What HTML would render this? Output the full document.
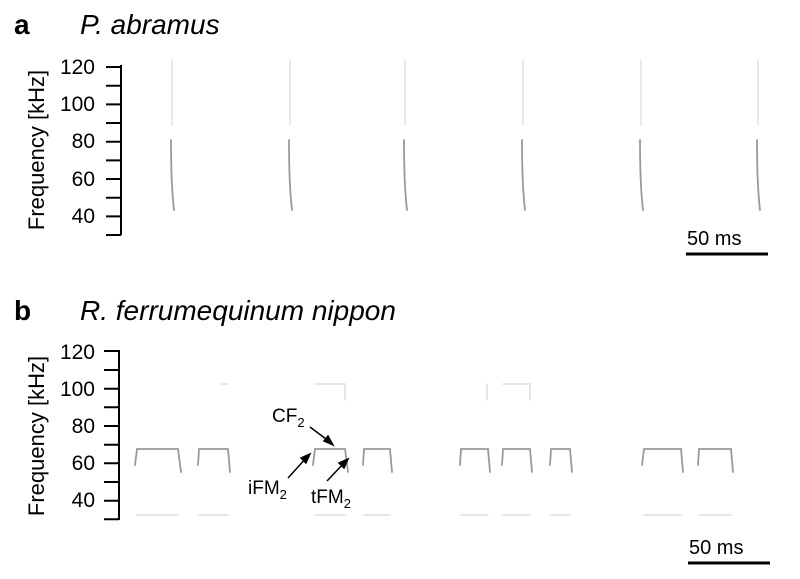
<!DOCTYPE html>
<html><head><style>body{margin:0;background:#fff}svg{display:block}</style></head><body>
<svg width="800" height="579" viewBox="0 0 800 579" xmlns="http://www.w3.org/2000/svg" font-family="Liberation Sans, sans-serif">
<text x="14" y="34" font-size="28" font-weight="bold">a</text>
<text x="80" y="34" font-size="28" font-style="italic">P. abramus</text>
<text x="14" y="320" font-size="28" font-weight="bold">b</text>
<text x="80" y="320" font-size="28" font-style="italic">R. ferrumequinum nippon</text>
<g font-size="22" text-anchor="middle">
<text transform="translate(44,150) rotate(-90)">Frequency [kHz]</text>
<text transform="translate(44,436) rotate(-90)">Frequency [kHz]</text>
</g>
<g stroke="#000" stroke-width="2" fill="none">
<path d="M121 65V235M106 67H121M106 85.7H121M106 104.4H121M106 123H121M106 141.7H121M106 160.4H121M106 179H121M106 197.7H121M106 216.4H121M106 235H121"/>
<path d="M119 350V520M104 351H119M104 370H119M104 388.7H119M104 407.3H119M104 426H119M104 444.7H119M104 463.3H119M104 482H119M104 500.7H119M104 519.3H119"/>
<path d="M686 254H768M688 563H770" stroke-width="3"/>
</g>
<g font-size="21" text-anchor="end">
<text x="95" y="74">120</text><text x="95" y="111">100</text><text x="95" y="148">80</text><text x="95" y="186">60</text><text x="95" y="223">40</text>
<text x="95" y="359">120</text><text x="95" y="396">100</text><text x="95" y="433">80</text><text x="95" y="470">60</text><text x="95" y="507">40</text>
</g>
<g font-size="20"><text x="687" y="245">50 ms</text><text x="689" y="554">50 ms</text></g>
<g stroke-linecap="round" fill="none">
<g stroke="#e2e2e2" stroke-width="1.5">
<path d="M172 60V125M290 60V125M405 60V125M523 60V125M641 60V125M758 60V125"/>
</g>
<g stroke="#999" stroke-width="1.8">
<path d="M171 140Q171 185 174 210M289 140Q289 185 292 210M404 140Q404 185 407 210M522 140Q522 185 525 210M640 140Q640 185 643 210M757 140Q757 185 760 210"/>
</g>
<g stroke="#999" stroke-width="1.8">
<path d="M135 465L137 449H178L181 472M198 465L199 449H228L230 472M313 465L315 449H345L348 472M363 465L364 449H390L392 472M460 465L461 449H488L490 472M502 465L503 449H530L532 472M550 465L551 449H570L572 472M642 465L644 449H681L683 472M698 465L699 449H731L733 472"/>
</g>
<g stroke="#ddd" stroke-width="1.5">
<path d="M137 515H178M199 515H228M315 515H345M364 515H390M461 515H488M503 515H530M551 515H570M644 515H681M699 515H731"/>
<path d="M315 384H345V400M487 384V400M503 384H530V400M222 384H228"/>
</g>
</g>
<g stroke="#000" stroke-width="1.5" fill="#000">
<path d="M310 427L330 442" fill="none"/><path d="M333 445L324 441L328 436Z"/>
<path d="M288 478L307 457" fill="none"/><path d="M310 454L306 463L301 458Z"/>
<path d="M327 481L345 462" fill="none"/><path d="M348 459L344 468L339 463Z"/>
</g>
<g font-size="19">
<text x="272" y="422">CF<tspan font-size="13" dy="5">2</tspan></text>
<text x="248" y="494">iFM<tspan font-size="13" dy="5">2</tspan></text>
<text x="311" y="503">tFM<tspan font-size="13" dy="5">2</tspan></text>
</g>
</svg>
</body></html>
